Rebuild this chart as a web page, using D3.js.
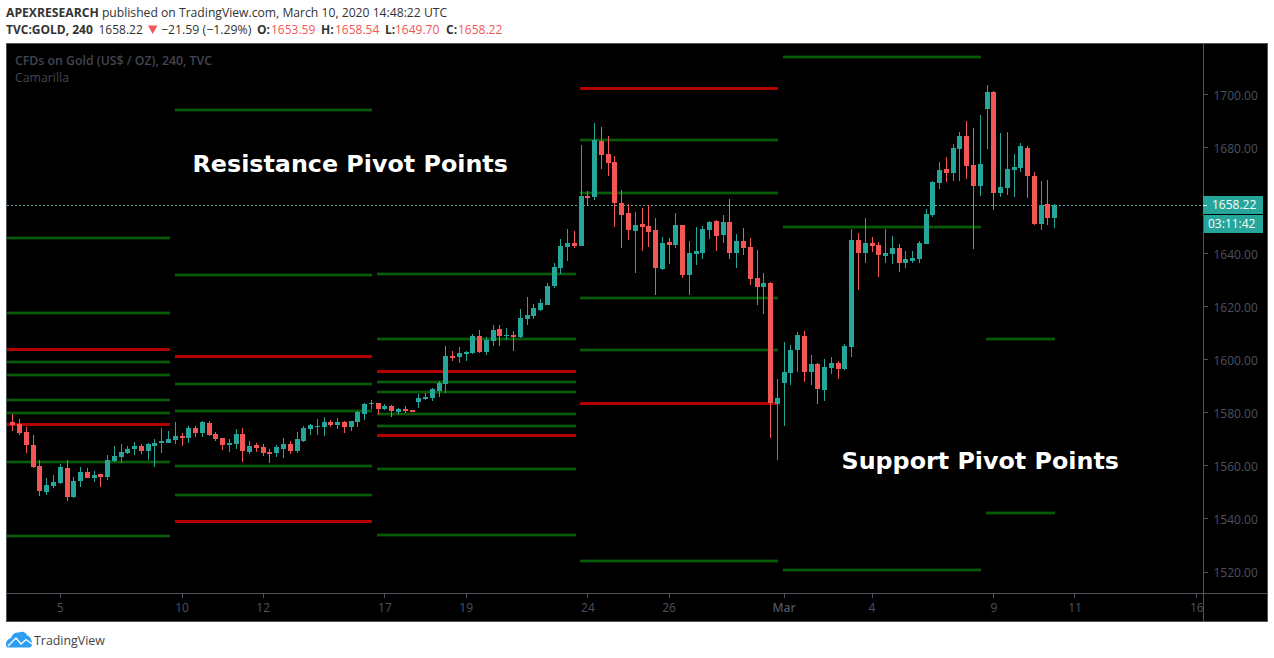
<!DOCTYPE html>
<html><head><meta charset="utf-8">
<script src="https://cdn.jsdelivr.net/npm/d3@7"></script>
<style>html,body{margin:0;padding:0;background:#fff;overflow:hidden}svg{display:block}</style>
</head><body><svg id="c" width="1274" height="658"></svg>
<script>
const opens=[1576.5,1575.8,1572.8,1567.9,1560.0,1550.2,1552.4,1553.6,1559.2,1548.3,1554.3,1557.7,1555.4,1556.9,1555.8,1561.8,1563.4,1564.9,1566.4,1567.5,1565.6,1567.5,1568.6,1568.6,1569.8,1571.3,1570.5,1574.3,1572.4,1576.2,1572.0,1570.5,1567.9,1568.2,1572.0,1565.2,1567.9,1567.1,1565.2,1564.9,1566.4,1568.2,1565.6,1569.4,1573.9,1574.8,1574.7,1576.5,1575.4,1576.5,1574.7,1576.5,1579.6,1583.3,1583.7,1581.4,
1582.6,1580.3,1581.4,1581.1,1584.1,1585.2,1585.6,1588.2,1590.9,1601.4,1601.0,1602.2,1602.5,1609.0,1602.9,1607.1,1611.6,1609.0,1609.3,1608.6,1615.4,1616.5,1618.8,1620.6,1627.8,1634.6,1642.5,
1644.0,1642.9,1661.7,1661.4,1682.5,1677.6,1674.6,1659.1,1655.3,1648.5,1651.2,1650.4,1648.9,1634.2,1644.4,1643.3,1650.8,1632.0,1639.9,1640.3,1648.9,1652.3,1647.0,1651.9,1640.3,1644.8,1642.5,1630.8,1627.4,
1628.9,1583.3,1591.2,1595.0,1603.7,1608.9,1595.4,1598.4,1588.6,1596.9,1598.8,1596.5,1604.8,1645.1,1640.3,1644.0,1643.3,1639.1,1639.9,1642.1,1636.5,1637.2,1638.0,
1643.6,1654.6,1666.6,1672.0,1670.4,1679.5,1684.4,1673.4,1665.5,1694.5,1701.0,1662.9,1664.8,1671.6,1672.3,1679.8,1669.3,1651.2,1658.7,1653.59];
const highs=[1579.6,1577.7,1574.7,1571.6,1562.2,1555.4,1556.6,1560.7,1562.2,1555.8,1559.6,1559.2,1558.1,1556.9,1564.1,1567.5,1568.2,1567.5,1569.0,1568.2,1568.6,1570.1,1574.3,1573.1,1576.5,1572.4,1575.0,1575.0,1576.9,1576.9,1572.8,1570.5,1570.1,1573.9,1574.3,1569.4,1568.6,1568.2,1566.4,1567.9,1570.5,1569.4,1572.8,1575.0,1575.8,1577.7,1578.4,1577.3,1578.0,1576.9,1576.9,1580.7,1583.7,1584.8,1583.7,1583.3,
1582.9,1581.8,1582.6,1581.1,1587.1,1587.5,1589.4,1592.0,1605.2,1603.3,1604.8,1603.3,1609.7,1611.2,1608.6,1613.1,1613.1,1612.0,1610.8,1619.1,1623.7,1621.0,1622.9,1628.9,1636.5,1645.5,1649.3,
1648.5,1681.0,1663.6,1689.3,1687.8,1684.4,1676.8,1664.0,1658.7,1655.7,1657.2,1658.3,1653.4,1646.3,1645.9,1655.3,1650.8,1644.8,1650.1,1650.4,1652.3,1652.7,1654.6,1660.6,1647.4,1649.7,1645.9,1641.4,1632.7,
1629.3,1592.8,1606.7,1605.6,1610.5,1610.9,1601.8,1598.8,1600.3,1601.0,1599.5,1605.9,1649.3,1647.8,1653.4,1646.3,1644.4,1649.3,1646.7,1643.6,1641.0,1641.0,1644.8,
1656.8,1667.4,1674.6,1676.5,1681.4,1685.9,1690.0,1687.4,1692.3,1703.6,1701.3,1685.5,1685.9,1677.6,1681.7,1680.6,1670.8,1667.4,1667.8,1658.54];
const lows=[1573.1,1571.6,1564.9,1559.2,1548.6,1549.0,1551.7,1553.2,1546.8,1547.9,1552.0,1555.4,1553.9,1552.0,1554.7,1561.5,1561.1,1564.5,1564.1,1564.5,1562.2,1559.6,1564.9,1568.6,1568.2,1567.5,1568.6,1570.9,1570.9,1571.3,1569.4,1566.0,1565.2,1566.4,1561.5,1564.5,1565.2,1563.7,1561.1,1563.4,1563.0,1564.5,1564.9,1569.0,1571.6,1571.6,1571.3,1574.7,1573.9,1572.4,1573.1,1574.7,1577.3,1581.4,1579.6,1581.1,
1578.4,1579.6,1579.9,1580.3,1581.8,1584.8,1584.5,1586.0,1587.5,1599.5,1598.8,1599.5,1602.2,1602.5,1601.8,1605.2,1605.2,1607.5,1603.3,1608.2,1613.1,1615.4,1618.4,1620.6,1627.1,1632.3,1637.2,
1642.1,1642.9,1658.3,1660.2,1671.9,1669.3,1650.1,1642.1,1645.2,1632.7,1641.0,1642.5,1624.4,1633.8,1636.1,1642.1,1630.8,1624.4,1635.7,1638.0,1645.5,1641.0,1644.0,1638.0,1634.6,1639.5,1628.2,1620.7,1617.3,
1570.5,1562.2,1575.0,1590.5,1595.4,1591.6,1590.5,1583.3,1584.5,1594.6,1592.8,1596.1,1601.0,1626.3,1636.5,1640.6,1631.2,1636.5,1636.1,1633.1,1634.6,1636.5,1636.5,
1643.6,1653.8,1664.4,1667.0,1667.4,1667.4,1668.2,1641.8,1661.7,1679.5,1656.5,1661.4,1662.1,1661.4,1670.8,1661.0,1650.8,1648.9,1650.8,1649.70];
const closes=[1575.3,1572.4,1567.9,1559.6,1550.5,1552.8,1553.9,1559.6,1548.3,1554.3,1557.7,1555.4,1556.6,1555.8,1562.2,1563.7,1565.2,1566.4,1567.5,1565.6,1568.2,1568.6,1569.4,1570.1,1571.3,1570.5,1574.3,1572.4,1576.5,1571.6,1570.1,1567.9,1568.6,1572.0,1565.6,1567.5,1566.7,1564.9,1564.5,1567.1,1568.2,1565.6,1570.1,1574.3,1575.4,1575.0,1576.5,1575.4,1576.5,1574.7,1576.9,1580.3,1583.3,1583.7,1581.4,1582.6,
1580.7,1581.4,1580.7,1580.3,1585.6,1586.0,1589.0,1591.2,1601.4,1600.7,1602.5,1602.9,1609.0,1602.9,1607.5,1611.2,1609.0,1609.2,1608.6,1615.7,1616.9,1619.5,1621.4,1627.8,1635.0,1642.9,1644.0,
1642.9,1661.7,1661.0,1682.9,1677.2,1674.2,1659.1,1654.6,1648.9,1650.8,1650.1,1648.2,1634.6,1644.0,1643.3,1650.8,1632.0,1640.3,1641.0,1649.3,1651.9,1646.7,1651.9,1640.3,1644.8,1642.1,1630.5,1627.4,1629.0,
1583.7,1585.6,1595.4,1603.7,1609.3,1595.4,1598.4,1589.0,1597.3,1598.8,1596.5,1605.2,1645.1,1640.3,1644.0,1642.9,1639.5,1640.3,1642.1,1636.5,1638.0,1638.4,1644.0,
1655.0,1667.0,1671.6,1670.4,1679.8,1684.4,1673.1,1665.5,1673.8,1701.0,1662.9,1665.1,1672.0,1672.7,1680.6,1669.3,1651.2,1658.2,1653.4,1658.22];

const pivotStarts=[-0.8,23.9,53.8,83.8,113.8,143.8];
const pivotEnds=[23.15,53.15,83.3,113.15,143.1,154.1];
const greenLevels=[
 [1645.9,1617.8,1599.2,1594.1,1585.0,1580.1,1561.3,1533.4],
 [1694.3,1632.1,1590.7,1580.7,1559.8,1549.2],
 [1632.5,1608.0,1591.8,1587.7,1579.4,1575.2,1559.0,1534.1],
 [1682.7,1662.7,1623.1,1603.5,1524.3],
 [1714.3,1649.9,1520.9],
 [1608.0,1542.4]];
const redLevels=[[1603.7,1575.6],[1601.4,1539.2],[1595.6,1571.3],[1702.3,1583.7],[],[]];

const priceTicks=[1520,1540,1560,1580,1600,1620,1640,1680,1700];
const timeTickIndex=[7,25,37,55,67,85,97,114,127,145,157,175];
const timeTickLabels=["5","10","12","17","19","24","26","Mar","4","9","11","16"];
const lastPrice=1658.22;
const countdown="03:11:42";

const UP="#26a69a",DOWN="#f45656",GREEN="#065c06",GLOW="#071f07",RED="#b30000",BORDER="#50535e",AXT="#4d5260";
const UI="'Open Sans',sans-serif";
const svg=d3.select("#c");
const y=d3.scaleLinear().domain([1700,1520]).range([94.5,572]);
const x=d3.scaleLinear().domain([0,154]).range([12.9,1054.7]);

svg.append("rect").attr("x",6).attr("y",43).attr("width",1262).attr("height",579).attr("fill","#000");
const defs=svg.append("defs");
defs.append("clipPath").attr("id","pane").append("rect").attr("x",7).attr("y",44).attr("width",1196).attr("height",549);
const pane=svg.append("g").attr("clip-path","url(#pane)");

// pivot levels
const lines=pane.append("g").attr("shape-rendering","crispEdges");
pivotStarts.forEach((s,k)=>{
  const xa=x(s),xb=x(pivotEnds[k]);
  lines.selectAll(null).data(greenLevels[k]).join("rect").attr("x",xa).attr("width",xb-xa)
    .attr("y",d=>Math.round(y(d)-2)).attr("height",4).attr("fill",GLOW);
  lines.selectAll(null).data(greenLevels[k]).join("rect").attr("x",xa).attr("width",xb-xa)
    .attr("y",d=>Math.round(y(d)-1)).attr("height",2).attr("fill",GREEN);
  lines.selectAll(null).data(redLevels[k]).join("rect").attr("x",xa).attr("width",xb-xa)
    .attr("y",d=>Math.round(y(d)-1.5)).attr("height",3).attr("fill",RED);
});

// last price line
pane.append("line").attr("x1",7).attr("x2",1203).attr("y1",Math.floor(y(lastPrice))+.5).attr("y2",Math.floor(y(lastPrice))+.5)
  .attr("stroke","#5fb0a8").attr("stroke-dasharray","2 2");

// candles
const bars=d3.range(opens.length);
const cg=pane.append("g").attr("shape-rendering","crispEdges");
const col=i=>closes[i]>=opens[i]?UP:DOWN;
cg.selectAll(".w").data(bars).join("rect").attr("class","w")
  .attr("x",i=>Math.floor(x(i))).attr("width",1)
  .attr("y",i=>Math.round(y(highs[i]))).attr("height",i=>Math.max(1,Math.round(y(lows[i]))-Math.round(y(highs[i]))))
  .attr("fill",col);
cg.selectAll(".b").data(bars).join("rect").attr("class","b")
  .attr("x",i=>Math.floor(x(i))-2).attr("width",5)
  .attr("y",i=>Math.round(y(Math.max(opens[i],closes[i]))))
  .attr("height",i=>Math.max(1,Math.round(y(Math.min(opens[i],closes[i])))-Math.round(y(Math.max(opens[i],closes[i])))))
  .attr("fill",col);

// annotations
svg.append("text").attr("x",192.5).attr("y",172).attr("font-family","'DejaVu Sans'").attr("font-weight","700").attr("font-size",23.8).attr("fill","#fff").text("Resistance Pivot Points");
svg.append("text").attr("x",841.5).attr("y",469).attr("font-family","'DejaVu Sans'").attr("font-weight","700").attr("font-size",23.8).attr("fill","#fff").text("Support Pivot Points");

// watermark legend
svg.append("text").attr("x",15).attr("y",65).attr("font-family",UI).attr("font-weight","600").attr("font-size",12.3).attr("fill","#434651").text("CFDs on Gold (US$ / OZ), 240, TVC");
svg.append("text").attr("x",15).attr("y",82).attr("font-family",UI).attr("font-size",12.3).attr("fill","#434651").text("Camarilla");

// axes
const yAxis=d3.axisRight(y).tickValues(priceTicks).tickFormat(d3.format(".2f")).tickSize(4).tickPadding(6).offset(0);
const ga=svg.append("g").attr("transform","translate(1203.5,0)").call(yAxis);
const xAxis=d3.axisBottom(x).tickValues(timeTickIndex)
  .tickFormat((d,i)=>timeTickLabels[i]).tickSize(4).tickPadding(6).offset(0);
const gb=svg.append("g").attr("transform","translate(0,593.5)").call(xAxis);
[ga,gb].forEach(g=>{
  g.select(".domain").remove();
  g.selectAll("line").attr("stroke",BORDER).attr("shape-rendering","crispEdges");
  g.selectAll("text").attr("fill",AXT).attr("font-family",UI).attr("font-size",12);
});
ga.selectAll("text").attr("dy","1.32em").attr("y",-8);
ga.selectAll("text").attr("dy",null).attr("y",0).attr("dominant-baseline",null).attr("transform","translate(0,5)");
gb.selectAll("text").attr("font-weight",(d,i)=>timeTickLabels[i]==="Mar"?600:400);

// pane borders
const bd=svg.append("g").attr("stroke",BORDER).attr("shape-rendering","crispEdges");
bd.append("rect").attr("x",6.5).attr("y",43.5).attr("width",1261).attr("height",578).attr("fill","none");
bd.append("line").attr("x1",1203.5).attr("x2",1203.5).attr("y1",43).attr("y2",621);
bd.append("line").attr("x1",6).attr("x2",1267).attr("y1",593.5).attr("y2",593.5);

// last price labels
svg.append("rect").attr("x",1203).attr("y",196).attr("width",60).attr("height",18).attr("fill",UP);
svg.append("rect").attr("x",1203).attr("y",205).attr("width",4).attr("height",1).attr("fill","#fff");
svg.append("text").attr("x",1212).attr("y",209).attr("font-family",UI).attr("font-size",12).attr("fill","#fff").text(d3.format(".2f")(lastPrice));
svg.append("rect").attr("x",1204).attr("y",215).attr("width",59).attr("height",18).attr("fill",UP);
svg.append("text").attr("x",1208).attr("y",228).attr("font-family",UI).attr("font-size",12).attr("fill","#fff").text(countdown);

// header
const h1=svg.append("text").attr("x",6).attr("y",17).attr("font-family",UI).attr("font-size",12.17).attr("fill","#333");
h1.append("tspan").attr("font-weight","700").text("APEXRESEARCH");
h1.append("tspan").text(" published on TradingView.com, March 10, 2020 14:48:22 UTC");
const R="#f45656";
const h2=svg.append("text").attr("x",6).attr("y",34).attr("font-family",UI).attr("font-size",12).attr("fill","#333");
h2.append("tspan").attr("font-weight","700").text("TVC:GOLD, 240");
h2.append("tspan").attr("x",98.5).text("1658.22");
svg.append("path").attr("d","M148 25.5H157.5L152.7 34Z").attr("fill",R);
const h3=svg.append("text").attr("x",161).attr("y",34).attr("font-family",UI).attr("font-size",12.3).attr("fill","#333");
h3.append("tspan").text("\u221221.59 (\u22121.29%)");
[["O:",257,"1653.59",271],["H:",321,"1658.54",335],["L:",385,"1649.70",395],["C:",446,"1658.22",458]].forEach(a=>{
  svg.append("text").attr("x",a[1]).attr("y",34).attr("font-family",UI).attr("font-size",12).attr("font-weight","700").attr("fill","#333").text(a[0]);
  svg.append("text").attr("x",a[3]).attr("y",34).attr("font-family",UI).attr("font-size",12).attr("fill",R).text(a[2]);
});

// logo
svg.append("path").attr("fill","#2e9ef5").attr("d","M6 645C6 641 8 639 11 638C12 634 15 632 19 632.5C22 631 26 632 27 635.5C30 636 32 640 32 644C32 647 30 647.5 29 647.5H9C7 647.5 6 647 6 645Z");
svg.append("path").attr("fill","none").attr("stroke","#fff").attr("stroke-width",1.3).attr("d","M8 646L16 638L21 644L26 639.5L32 644");
svg.append("text").attr("x",34).attr("y",645).attr("font-family",UI).attr("font-size",12.4).attr("fill","#444").text("TradingView");
</script></body></html>
